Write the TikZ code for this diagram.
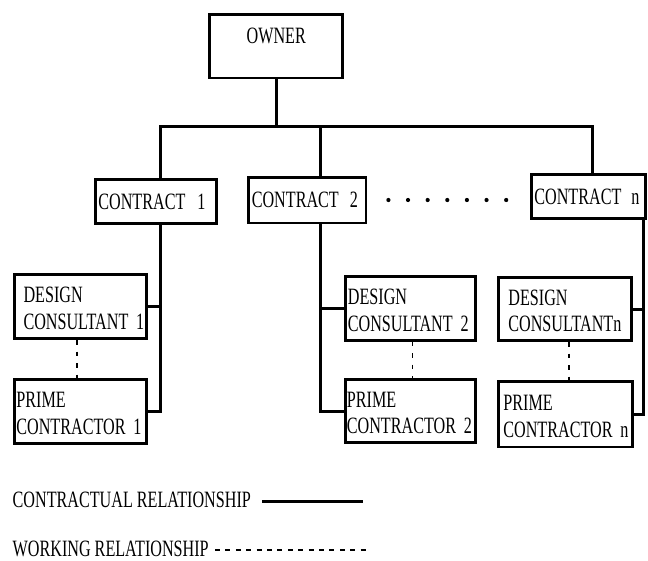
\documentclass[tikz,border=0pt]{standalone}
\usepackage{fontspec}
\setmainfont[FakeStretch=0.69]{Liberation Serif}
\newcommand{\diafont}{\fontsize{23.4}{26.7}\selectfont}
\newcommand{\myst}{\rule{0pt}{19.5pt}}
\begin{document}
\begin{tikzpicture}[x=1pt,y=-1pt,
  box/.style={draw, line width=2.8pt, rectangle, align=left, inner ysep=0pt, font=\diafont},
  ownerbox/.style={draw, line width=2.8pt, rectangle, inner sep=0pt, font=\diafont, text depth=21.5pt},
  contr/.style={line width=3pt},
  work/.style={line width=1.3pt, dash pattern=on 4.7pt off 6.8pt},
  lgd/.style={inner sep=0pt, font=\diafont}]
\useasboundingbox (0,0) rectangle (648,560);
% boxes
\node[ownerbox, minimum width=132.9pt, minimum height=63.2pt] (owner) at (276.2,46.3) {OWNER};
\node[box, minimum height=44.2pt, inner xsep=3pt, text width=115.2pt] (c1) at (156,201.5) {\mbox{CONTRACT\hspace{12pt}1}};
\node[box, minimum height=45.8pt, inner xsep=3.7pt, text width=110.4pt] (c2) at (307,200) {\mbox{CONTRACT\hspace{11pt}2}};
\node[box, minimum height=44.2pt, inner xsep=3pt, text width=108.2pt] (cn) at (588.5,196.7) {\mbox{CONTRACT\hspace{10pt}n}};
\node[box, minimum height=64.2pt, inner xsep=9.4pt, text width=113.7pt] (dc1) at (80.35,306.5) {\myst DESIGN\\\mbox{CONSULTANT 1}};
\node[box, minimum height=64.2pt, inner xsep=2pt, text width=128.2pt] (pc1) at (80.5,411.5) {\myst PRIME\\\mbox{CONTRACTOR 1}};
\node[box, minimum height=63.9pt, inner xsep=2.5pt, text width=124.9pt] (dc2) at (410.35,308.35) {\myst DESIGN\\\mbox{CONSULTANT 2}};
\node[box, minimum height=63.2pt, inner xsep=1.5pt, text width=126.9pt] (pc2) at (410.35,411) {\myst PRIME\\\mbox{CONTRACTOR 2}};
\node[box, minimum height=63.2pt, inner xsep=10pt, text width=113.2pt] (dcn) at (565,309) {\myst DESIGN\\\mbox{CONSULTANTn}};
\node[box, minimum height=65.5pt, inner xsep=5pt, text width=124.2pt] (pcn) at (565.5,414.2) {\myst PRIME\\\mbox{CONTRACTOR n}};
% dots
\foreach \i in {0,...,6} \fill (388.4+19.63*\i,200) circle (2.1);
% upper tree
\coordinate (busL) at (160.8,126.7);
\coordinate (bus2) at (320,126.7);
\coordinate (busR) at (592,126.7);
\draw[contr] (owner.south) -- (owner.south |- busL);
\draw[contr] ([xshift=-1.5pt]busL) -- ([xshift=1.5pt]busR);
\draw[contr] (busL) -- (busL |- c1.north);
\draw[contr] (bus2) -- (bus2 |- c2.north);
\draw[contr] (busR) -- (busR |- cn.north);
% lower branches
\coordinate (v1) at (160,413);
\coordinate (v2) at (320,413);
\coordinate (vn) at (643,416);
\draw[contr] (v1 |- c1.south) -- (v1 |- pc1.east) -- (pc1.east);
\draw[contr] (dc1.east) -- (dc1.east -| v1);
\draw[contr] (v2 |- c2.south) -- (v2 |- pc2.west) -- (pc2.west);
\draw[contr] (dc2.west) -- (dc2.west -| v2);
\draw[contr] (vn |- cn.south) -- (vn |- pcn.east) -- (pcn.east);
\draw[contr] (dcn.east) -- (dcn.east -| vn);
% working relationships
\draw[work] ([xshift=-3.3pt]dc1.south) -- ([xshift=-3.3pt]dc1.south |- pc1.north);
\draw[work] ([xshift=2.3pt]dc2.south) -- ([xshift=2.3pt]dc2.south |- pc2.north);
\draw[work] ([xshift=4pt]dcn.south) -- ([xshift=4pt]dcn.south |- pcn.north);
% legend
\node[lgd, anchor=base west] (lg1) at (12.5,507.3) {CONTRACTUAL RELATIONSHIP};
\coordinate (l1a) at (262,501.7);
\coordinate (l1b) at (363,501.7);
\draw[line width=3pt] (l1a) -- (l1b);
\node[lgd, anchor=base west] (lg2) at (12.5,556) {WORKING RELATIONSHIP};
\coordinate (l2a) at (215,550);
\coordinate (l2b) at (366,550);
\draw[line width=2pt, dash pattern=on 5pt off 5.4pt] (l2a) -- (l2b);
\end{tikzpicture}
\end{document}
